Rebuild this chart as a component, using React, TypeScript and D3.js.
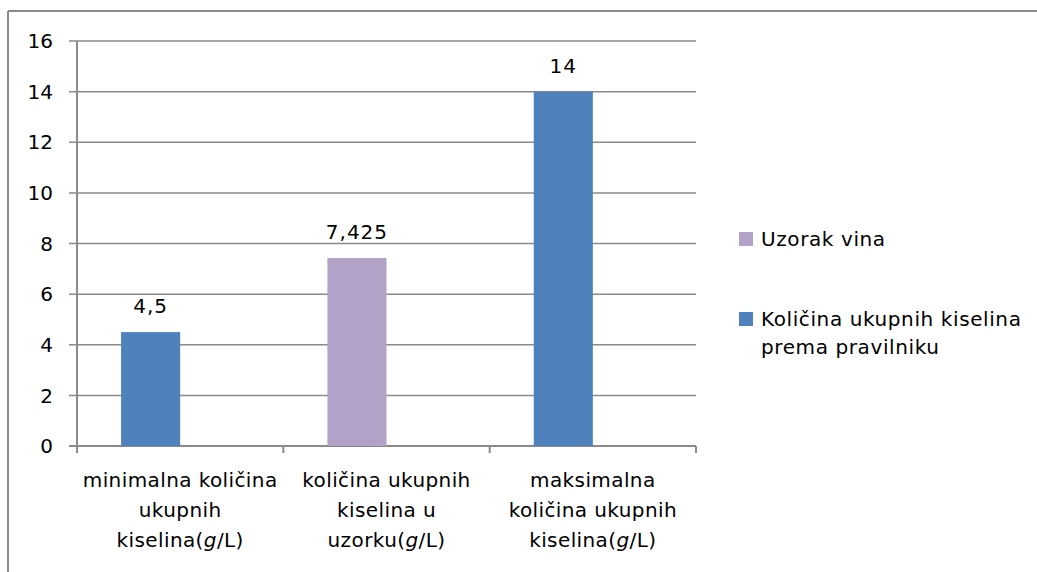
import React from "react";
import * as d3 from "d3";

const categories = ["min", "uzorak", "max"];
const categoryLines: string[][] = [
  ["minimalna količina", "ukupnih", "kiselina(g/L)"],
  ["količina ukupnih", "kiselina u", "uzorku(g/L)"],
  ["maksimalna", "količina ukupnih", "kiselina(g/L)"],
];
const values = [4.5, 7.425, 14];
const valueLabels = ["4,5", "7,425", "14"];
const seriesOf = [1, 0, 1]; // 0 = Uzorak vina, 1 = Količina ukupnih kiselina prema pravilniku
const seriesNames: string[][] = [["Uzorak vina"], ["Količina ukupnih kiselina", "prema pravilniku"]];
const seriesColors = ["#b2a2c7", "#4f81bd"];
const yTicks = [0, 2, 4, 6, 8, 10, 12, 14, 16];

const FONT = "'DejaVu Sans', sans-serif";
const GRID = "#8a8a8a";

function renderLine(line: string) {
  const idx = line.indexOf("(g/L)");
  if (idx < 0) return line;
  return (
    <>
      {line.slice(0, idx) + "("}
      <tspan fontStyle="italic">g</tspan>
      {"/L)"}
    </>
  );
}

export default function App() {
  const y = d3.scaleLinear().domain([0, 16]).range([446, 41]);
  const x = d3.scaleBand<string>().domain(categories).range([77, 696]).paddingInner(0).paddingOuter(0);
  const slot = d3
    .scaleBand<string>()
    .domain(["a", "b"])
    .range([0, x.bandwidth()])
    .paddingInner(0)
    .paddingOuter(0.746);

  const x0 = 77;
  const x1 = 696;

  return (
    <svg
      width={1037}
      height={572}
      style={{ position: "absolute", left: 0, top: 0, display: "block", background: "#fff" }}
      fontFamily={FONT}
    >
      {/* outer border (top and left) */}
      <line x1={8} y1={11} x2={1037} y2={11} stroke={GRID} strokeWidth={2} />
      <line x1={8} y1={11} x2={8} y2={572} stroke={GRID} strokeWidth={2} />

      {/* gridlines and y ticks */}
      {yTicks.map((t) => (
        <g key={t}>
          <line x1={x0 - 8} x2={x1} y1={y(t)} y2={y(t)} stroke={GRID} strokeWidth={t === 0 ? 2 : 1.5} />
          <text x={53} y={y(t)} dy="0.36em" textAnchor="end" fontSize={20} fill="#000">
            {t}
          </text>
        </g>
      ))}

      {/* y axis */}
      <line x1={x0} x2={x0} y1={y(16)} y2={y(0) + 6} stroke={GRID} strokeWidth={2} />

      {/* x axis category ticks */}
      {[...categories.map((c) => x(c)!), x1].map((px, i) => (
        <line key={i} x1={px} x2={px} y1={y(0)} y2={y(0) + 7} stroke={GRID} strokeWidth={2} />
      ))}

      {/* bars */}
      {categories.map((c, i) => {
        const bx = x(c)! + slot("a")!;
        const bw = slot.bandwidth();
        return (
          <g key={c}>
            <rect x={bx} y={y(values[i])} width={bw} height={y(0) - y(values[i])} fill={seriesColors[seriesOf[i]]} />
            <text
              x={bx + bw / 2}
              y={y(values[i]) - 19}
              textAnchor="middle"
              fontSize={20}
              letterSpacing={1}
              fill="#000"
            >
              {valueLabels[i]}
            </text>
          </g>
        );
      })}

      {/* category labels */}
      {categories.map((c, i) => (
        <text
          key={c}
          x={x(c)! + x.bandwidth() / 2}
          textAnchor="middle"
          fontSize={20}
          letterSpacing={0.4}
          fill="#000"
        >
          {categoryLines[i].map((ln, j) => (
            <tspan key={j} x={x(c)! + x.bandwidth() / 2} y={487 + j * 30}>
              {renderLine(ln)}
            </tspan>
          ))}
        </text>
      ))}

      {/* legend */}
      {[0, 1].map((s, k) => {
        const top = k === 0 ? 232 : 312;
        return (
          <g key={s}>
            <rect x={739} y={top} width={14} height={14} fill={seriesColors[s]} />
            <text fontSize={20} letterSpacing={0.6} fill="#000">
              {seriesNames[s].map((ln, j) => (
                <tspan key={j} x={761} y={top + 14 + j * 28}>
                  {ln}
                </tspan>
              ))}
            </text>
          </g>
        );
      })}
    </svg>
  );
}
